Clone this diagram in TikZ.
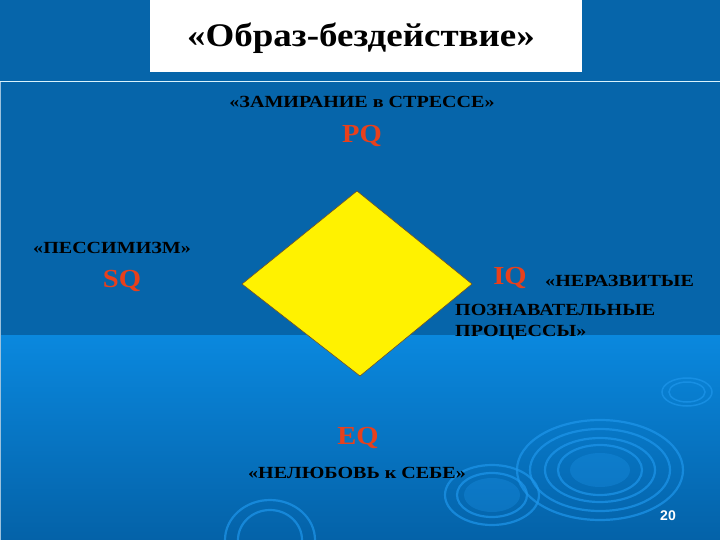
\documentclass[tikz,border=0pt]{standalone}
\usepackage{fontspec}
\setmainfont{Liberation Serif}
\newfontfamily\numfont{Liberation Sans}
\usetikzlibrary{shapes.geometric}
\definecolor{topblue}{RGB}{6,101,170}
\definecolor{bandtop}{RGB}{10,136,222}
\definecolor{bandbot}{RGB}{4,98,168}
\definecolor{ringblue}{RGB}{30,150,235}
\definecolor{qred}{RGB}{232,64,28}
\definecolor{diaedge}{RGB}{110,80,40}
\tikzset{
  lbl/.style={font=\bfseries\fontsize{17}{19}\selectfont, text=black, inner sep=0pt, xscale=1.18},
  qlbl/.style={font=\bfseries\fontsize{26}{28}\selectfont, text=qred, inner sep=0pt, xscale=1.1},
  ring/.style={draw=ringblue, line width=2.2pt, opacity=0.7},
}
\begin{document}
\begin{tikzpicture}[x=1pt,y=-1pt]
\useasboundingbox (0,0) rectangle (720,540);
% background
\fill[topblue] (0,0) rectangle (720,540);
\shade[top color=bandtop, bottom color=bandbot] (0,335) rectangle (720,540);
% decorative rings
\draw[ring] (600,470) ellipse (83 and 50);
\draw[ring] (600,470) ellipse (70 and 41);
\draw[ring] (600,470) ellipse (55 and 32);
\draw[ring] (600,470) ellipse (42 and 25);
\fill[ringblue, opacity=0.3] (600,470) ellipse (30 and 17);
\draw[ring] (492,495) ellipse (47 and 30);
\draw[ring] (492,495) ellipse (35 and 22);
\fill[ringblue, opacity=0.3] (492,495) ellipse (28 and 17);
\draw[ring, line width=1.5pt] (687,392) ellipse (25 and 14);
\draw[ring, line width=1.5pt] (687,392) ellipse (18 and 10);
\draw[ring] (270,540) ellipse (45 and 40);
\draw[ring] (270,540) ellipse (32 and 30);
% separator lines
\draw[white!85!cyan, line width=1pt] (0,82) -- (720,82);
\draw[white!60!topblue, line width=0.8pt] (0.6,82) -- (0.6,540);
% title box
\fill[white] (150,0) rectangle (582,72);
\node[font=\bfseries\fontsize{33}{35}\selectfont, text=black, inner sep=0pt, xscale=1.12] (title) at (361,38) {«Образ-бездействие»};
% diamond
\draw[fill=yellow, draw=diaedge, line width=0.6pt] (357,191) -- (472,284) -- (360,376) -- (242,284) -- cycle;
% labels
\node[lbl] (pqtxt) at (362,102) {«ЗАМИРАНИЕ в СТРЕССЕ»};
\node[qlbl] (pq) at (362,136) {PQ};
\node[lbl, anchor=west] (sqtxt) at (33,248) {«ПЕССИМИЗМ»};
\node[qlbl] (sq) at (122,281) {SQ};
\node[qlbl] (iq) at (510,278) {IQ};
\node[lbl, anchor=west] (iqtxt1) at (545,281) {«НЕРАЗВИТЫЕ};
\node[lbl, anchor=west] (iqtxt2) at (455,310) {ПОЗНАВАТЕЛЬНЫЕ};
\node[lbl, anchor=west] (iqtxt3) at (455,333) {ПРОЦЕССЫ»};
\node[qlbl] (eq) at (358,438) {EQ};
\node[lbl] (eqtxt) at (357,473) {«НЕЛЮБОВЬ к СЕБЕ»};
\node[font=\numfont\bfseries\fontsize{14}{16}\selectfont, text=white, inner sep=0pt] (page) at (668,516) {20};
\end{tikzpicture}
\end{document}
